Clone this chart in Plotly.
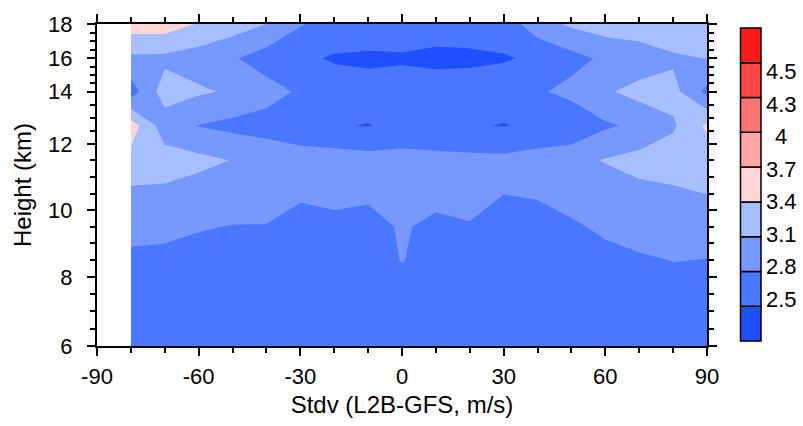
import numpy as np
import plotly.graph_objects as go

# ---------------- data ----------------
lats = [-80, -70, -60, -50, -40, -30, -20, -10, 0, 10, 20, 30, 40, 50, 60, 70, 80, 90]
heights_km = [5.5, 6.5, 7.5, 8.5, 9.5, 10.5, 11.5, 12.7, 14.0, 16.0, 18.0]

stdv_05p5 = [2.62, 2.62, 2.61, 2.60, 2.60, 2.60, 2.60, 2.61, 2.62, 2.61, 2.60, 2.60, 2.60, 2.61, 2.62, 2.63, 2.64, 2.64]
stdv_06p5 = [2.65, 2.65, 2.64, 2.62, 2.62, 2.61, 2.62, 2.63, 2.65, 2.63, 2.62, 2.61, 2.61, 2.63, 2.64, 2.66, 2.68, 2.68]
stdv_07p5 = [2.68, 2.68, 2.66, 2.64, 2.63, 2.62, 2.63, 2.64, 2.70, 2.64, 2.63, 2.62, 2.62, 2.64, 2.66, 2.70, 2.72, 2.72]
stdv_08p5 = [2.70, 2.70, 2.70, 2.68, 2.66, 2.65, 2.66, 2.68, 2.81, 2.70, 2.68, 2.64, 2.65, 2.68, 2.72, 2.77, 2.805, 2.795]
stdv_09p5 = [2.95, 2.90, 2.82, 2.79, 2.79, 2.72, 2.72, 2.70, 2.83, 2.73, 2.78, 2.70, 2.70, 2.76, 2.85, 2.90, 2.95, 2.91]
stdv_10p5 = [3.04, 3.04, 2.96, 2.95, 2.92, 2.83, 2.88, 2.85, 2.90, 2.89, 2.90, 2.802, 2.825, 2.91, 2.92, 3.02, 3.05, 3.105]
stdv_11p5 = [3.30, 3.24, 3.18, 3.09, 3.00, 2.95, 2.95, 2.91, 2.92, 2.895, 2.88, 2.875, 2.93, 3.00, 3.12, 3.20, 3.25, 3.25]
stdv_12p7 = [3.55, 2.93, 2.79, 2.72, 2.68, 2.60, 2.52, 2.49, 2.575, 2.55, 2.52, 2.49, 2.55, 2.565, 2.76, 2.863, 3.06, 3.45]
stdv_14p0 = [2.65, 3.25, 3.14, 3.06, 2.915, 2.76, 2.65, 2.62, 2.62, 2.60, 2.60, 2.62, 2.76, 2.885, 3.06, 3.20, 3.20, 2.72]
stdv_16p0 = [3.04, 3.03, 2.96, 2.83, 2.66, 2.56, 2.47, 2.445, 2.47, 2.45, 2.46, 2.48, 2.54, 2.70, 2.855, 2.91, 3.05, 3.11]
stdv_18p0 = [3.55, 3.55, 3.38, 3.25, 3.10, 2.82, 2.70, 2.70, 2.65, 2.60, 2.60, 2.62, 2.98, 3.15, 3.25, 3.30, 3.35, 3.30]

levels = [2.5, 2.8, 3.1, 3.4, 3.7, 4.0, 4.3, 4.5]
level_labels = ["2.5", "2.8", "3.1", "3.4", "3.7", "4", "4.3", "4.5"]
band_colors = ["#1f4fff", "#4a77ff", "#7799ff", "#a8bfff", "#ffd6d6",
               "#ffa5a5", "#ff7474", "#ff4646", "#ff1a1a"]

x_ticks = [-90, -60, -30, 0, 30, 60, 90]
height_ticks = [6, 8, 10, 12, 14, 16, 18]

# ---------------- vertical axis (range-bin spacing) ----------------
AXIS_KM = [5.0, 6, 8, 10, 12, 14, 16, 18]
AXIS_POS = [-1.0, 0.0, 2.05, 4.03, 5.99, 7.54, 8.53, 9.545]


def ypos(h):
    return np.interp(h, AXIS_KM, AXIS_POS)


Z = np.array([stdv_05p5, stdv_06p5, stdv_07p5, stdv_08p5, stdv_09p5, stdv_10p5,
              stdv_11p5, stdv_12p7, stdv_14p0, stdv_16p0, stdv_18p0])

step = levels[1] - levels[0]
c_end = levels[0] + step * (len(levels) - 1)
n_lev = len(levels)
cscale = []
for k in range(n_lev):
    cscale.append([k / n_lev, band_colors[k]])
    cscale.append([(k + 1) / n_lev - 1e-6, band_colors[k]])
cscale.append([1.0, band_colors[-1]])

FONT = "Liberation Sans, Arial, sans-serif"

fig = go.Figure()
fig.add_trace(go.Contour(
    x=lats, y=ypos(heights_km), z=Z,
    contours=dict(start=levels[0], end=c_end, size=step, coloring="fill", showlines=False),
    colorscale=cscale, showscale=False, line=dict(width=0, smoothing=0), hoverinfo="skip",
))

minor_h = [h for h in np.arange(6, 18.01, 0.5) if h not in height_ticks]

axis_common = dict(showgrid=False, zeroline=False, showline=True, linecolor="black",
                   linewidth=2, mirror="allticks", ticks="outside", ticklen=8,
                   tickwidth=2, tickcolor="black",
                   tickfont=dict(family=FONT, size=22, color="black"))

fig.update_xaxes(range=[-90, 90], tickvals=x_ticks, ticktext=[str(v) for v in x_ticks],
                 minor=dict(dtick=10, tick0=-90, ticks="outside", ticklen=5, tickwidth=1.5,
                            tickcolor="black"),
                 ticklabelstandoff=2,
                 title=dict(text="Stdv (L2B-GFS, m/s)", font=dict(family=FONT, size=24, color="black"),
                            standoff=8),
                 **axis_common)
fig.update_yaxes(range=[ypos(6), ypos(18)], tickvals=list(ypos(height_ticks)),
                 ticktext=[str(v) for v in height_ticks],
                 minor=dict(tickvals=list(ypos(minor_h)), ticks="outside", ticklen=5,
                            tickwidth=1.5, tickcolor="black"),
                 ticklabelstandoff=10,
                 title=dict(text="Height (km)", font=dict(family=FONT, size=24, color="black"),
                            standoff=10),
                 **axis_common)

# ---------------- custom labelbar ----------------
L, R, T, B = 97, 96, 19, 78
W, H = 803, 426
pw, ph = W - L - R, H - T - B


def px_x(px):
    return (px - L) / pw


def px_y(py):
    return (H - B - py) / ph


cb_left, cb_right, cb_top, cb_bot = 740.5, 761.0, 23.0, 343.0
nb = len(band_colors)
bh = (cb_bot - cb_top) / nb
shapes = []
for k, col in enumerate(band_colors):
    y0 = cb_bot - k * bh
    y1 = cb_bot - (k + 1) * bh
    shapes.append(dict(type="rect", xref="paper", yref="paper",
                       x0=px_x(cb_left), x1=px_x(cb_right), y0=px_y(y0), y1=px_y(y1),
                       fillcolor=col, line=dict(color="black", width=1.5), layer="above"))
annotations = []
lab_top, lab_step = 68.0, 33.2
for i, lab in enumerate(reversed(level_labels)):
    annotations.append(dict(xref="paper", yref="paper", x=px_x(781), y=px_y(lab_top + i * lab_step),
                            text=lab, showarrow=False, xanchor="center", yanchor="middle",
                            font=dict(family=FONT, size=22, color="black")))

fig.update_layout(width=W, height=H, margin=dict(l=L, r=R, t=T, b=B),
                  paper_bgcolor="white", plot_bgcolor="white",
                  shapes=shapes, annotations=annotations, showlegend=False)

fig.write_html("out.html")
